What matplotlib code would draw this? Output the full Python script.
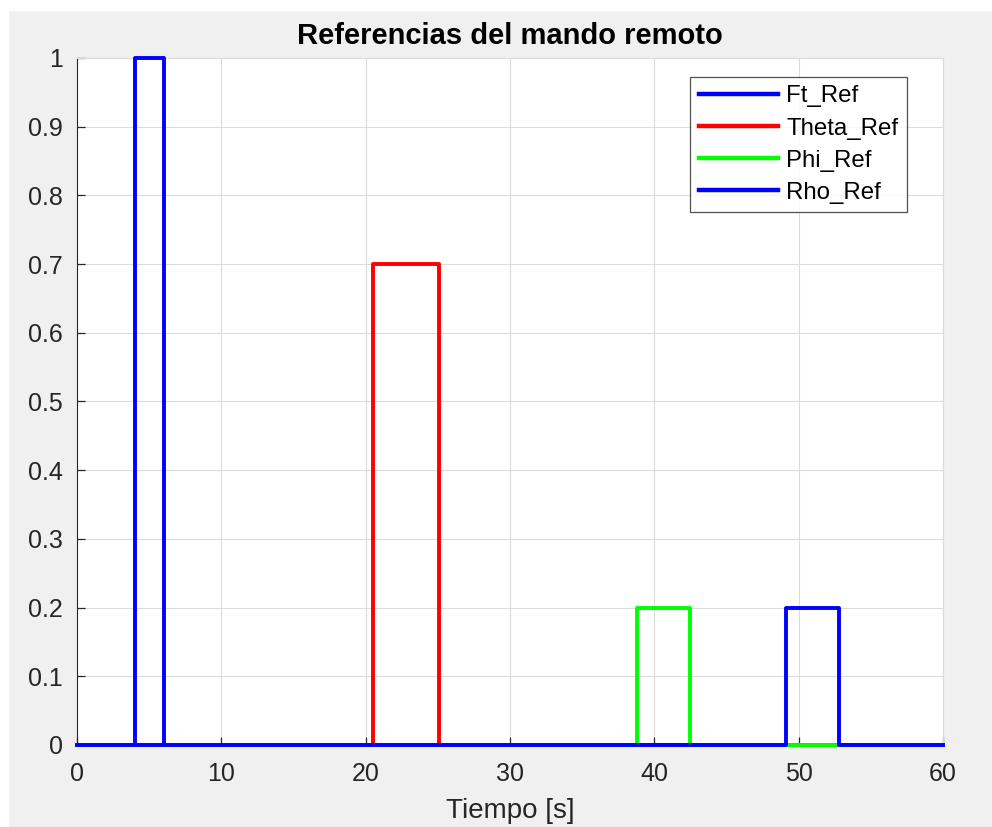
import numpy as np
import matplotlib
matplotlib.use('Agg')
import matplotlib.pyplot as plt

plt.rcParams['font.family'] = ['Liberation Sans', 'DejaVu Sans']

# pulse references: (start, end, amplitude) over a 0..60 s run
t_end = 60
ft_pulse = (4.0, 6.0, 1.0)
theta_pulse = (20.5, 25.1, 0.7)
phi_pulse = (38.8, 42.5, 0.2)
rho_pulse = (49.1, 52.8, 0.2)

names = ['Ft_Ref', 'Theta_Ref', 'Phi_Ref', 'Rho_Ref']
colors = ['#0000ff', '#ff0000', '#00ff00', '#0000ff']
x_ticks = [0, 10, 20, 30, 40, 50, 60]
y_ticks = [0, 0.1, 0.2, 0.3, 0.4, 0.5, 0.6, 0.7, 0.8, 0.9, 1]


def pulse_xy(start, end, amp):
    t = np.array([0, start, start, end, end, t_end])
    v = np.array([0, 0, amp, amp, 0, 0])
    return t, v


fig = plt.figure(figsize=(9.92, 8.27), dpi=100, facecolor='#f0f0f0')
# thin white strip along the top and left edges
fig.patches.append(plt.Rectangle((0, 1 - 10 / 827), 1, 10 / 827, transform=fig.transFigure,
                                 color='white', zorder=0))
fig.patches.append(plt.Rectangle((0, 0), 8 / 992, 1, transform=fig.transFigure,
                                 color='white', zorder=0))

ax = fig.add_axes([77 / 992, 1 - 745 / 827, (943 - 77) / 992, (745 - 58) / 827])
ax.set_facecolor('white')

for pulse, name, c in zip([ft_pulse, theta_pulse, phi_pulse, rho_pulse], names, colors):
    t, v = pulse_xy(*pulse)
    ax.plot(t, v, color=c, lw=2.8, label=name, solid_joinstyle='round', clip_on=False, zorder=3)

ax.set_xlim(0, t_end)
ax.set_ylim(0, 1)
ax.set_xticks(x_ticks)
ax.set_yticks(y_ticks)
ax.set_yticklabels([f'{v:g}' for v in y_ticks])
ax.grid(True, color='#dcdcdc', lw=0.8)
ax.set_axisbelow(True)

for side in ['top', 'right']:
    ax.spines[side].set_color('#dcdcdc')
for side in ['left', 'bottom']:
    ax.spines[side].set_color('#262626')
ax.tick_params(direction='in', length=6, width=0.9, colors='#262626',
               labelsize=18, labelcolor='#262626')
ax.tick_params(axis='y', pad=10)
ax.tick_params(axis='x', pad=12)

ax.set_title('Referencias del mando remoto', fontsize=21, fontweight='bold', pad=10)
ax.set_xlabel('Tiempo [s]', fontsize=20, color='#262626', labelpad=9)

leg = ax.legend(loc='upper right', bbox_to_anchor=(0.9584, 0.9723), fontsize=17.3,
                frameon=True, fancybox=False, handlelength=3.3, handletextpad=0.35,
                labelspacing=0.42, borderpad=0.35, borderaxespad=0)
leg.get_frame().set_edgecolor('#262626')
leg.get_frame().set_linewidth(0.9)
for line in leg.get_lines():
    line.set_linewidth(3.2)

fig.savefig('out.png', dpi=100, facecolor=fig.get_facecolor())
